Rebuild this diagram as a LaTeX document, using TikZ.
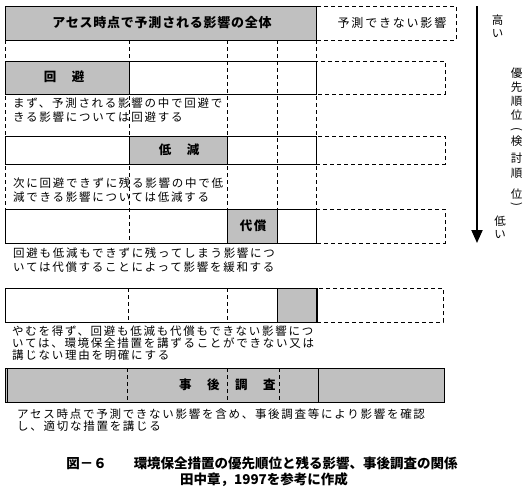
\documentclass[tikz,border=0pt]{standalone}
\usepackage{fontspec}
\newfontfamily\jp{Noto Sans CJK JP}
\usetikzlibrary{arrows.meta}
\definecolor{boxgray}{RGB}{192,192,192}
\begin{document}
\begin{tikzpicture}[x=1pt,y=-1pt,
  solidline/.style={draw=black,line width=1pt},
  dashline/.style={draw=black,line width=1pt,dash pattern=on 4pt off 3pt},
  grayfill/.style={fill=boxgray,draw=black,line width=1pt},
  bodytxt/.style={anchor=west,inner sep=0pt,font=\jp\fontsize{11.5}{14}\selectfont\addfontfeatures{LetterSpace=15}},
  boldlbl/.style={inner sep=0pt,font=\jp\bfseries\fontsize{12.5}{14}\selectfont\addfontfeatures{LetterSpace=12}},
  sidetxt/.style={inner sep=0pt,font=\jp\fontsize{11.5}{13}\selectfont},
  captxt/.style={inner sep=0pt,font=\jp\bfseries\fontsize{13.5}{16}\selectfont}]
\useasboundingbox (0,0) rectangle (528,493);
\fill[white] (0,0) rectangle (528,493);

% top row
\draw[dashline] (316,6) rectangle (456,40);
\draw[grayfill] (5,6) rectangle (316,40);
\node[boldlbl,font=\jp\bfseries\fontsize{13}{14}\selectfont\addfontfeatures{LetterSpace=6}] (whole) at (162,23) {アセス時点で予測される影響の全体};
\node[inner sep=0pt,font=\jp\fontsize{12}{14}\selectfont\addfontfeatures{LetterSpace=15}] (unpred) at (392,23) {予測できない影響};

% row 1 : avoidance
\draw[solidline,fill=white] (5,61) rectangle (316,94);
\draw[grayfill] (5,61) rectangle (129,94);
\draw[dashline] (316,61) rectangle (445,94);
% row 2 : reduction
\draw[solidline,fill=white] (5,136) rectangle (316,164);
\draw[grayfill] (129,136) rectangle (227,164);
\draw[dashline] (316,136) rectangle (445,164);
% row 3 : compensation
\draw[solidline,fill=white] (5,209) rectangle (316,243);
\draw[grayfill] (227,209) rectangle (277,243);
\draw[dashline] (316,209) rectangle (445,243);

% dashed guide lines
\foreach \xx in {5,129,227,277,316}{
  \draw[dashline] (\xx,40) -- (\xx,243);
}

\node[boldlbl] (avoid) at (64,77) {回　避};
\node[boldlbl] (reduce) at (179,150) {低　減};
\node[boldlbl] (comp) at (253,226) {代償};

\node[bodytxt] (t1a) at (13,103) {まず、予測される影響の中で回避で};
\node[bodytxt] (t1b) at (13,117) {きる影響については回避する};
\node[bodytxt] (t2a) at (13,183) {次に回避できずに残る影響の中で低};
\node[bodytxt] (t2b) at (13,197) {減できる影響については低減する};
\node[bodytxt] (t3a) at (13,253) {回避も低減もできずに残ってしまう影響につ};
\node[bodytxt] (t3b) at (13,267) {いては代償することによって影響を緩和する};

% row 4
\draw[dashline] (316,288) rectangle (443,322);
\draw[solidline,fill=white] (5,288) rectangle (316,322);
\draw[grayfill] (277,288) rectangle (316,322);
\draw[dashline] (128,288) -- (128,322);
\draw[dashline] (227,288) -- (227,322);
\draw[line width=2pt] (316.5,288) -- (316.5,322);

\node[bodytxt] (t4a) at (12,331) {やむを得ず、回避も低減も代償もできない影響につ};
\node[bodytxt] (t4b) at (12,343) {いては、環境保全措置を講ずることができない又は};
\node[bodytxt] (t4c) at (12,355) {講じない理由を明確にする};

% row 5
\draw[grayfill] (5,368) rectangle (444,402);
\draw[solidline] (7.5,368) -- (7.5,402);
\draw[dashline] (127,368) -- (127,402);
\draw[dashline] (227,368) -- (227,402);
\draw[dashline] (279,368) -- (279,402);
\draw[solidline] (318,368) -- (318,402);
\node[boldlbl,anchor=west] (post) at (179,385) {事　後　調　査};

\node[bodytxt] (t5a) at (17,414) {アセス時点で予測できない影響を含め、事後調査等により影響を確認};
\node[bodytxt] (t5b) at (17,426) {し、適切な措置を講じる};

% priority arrow
\coordinate (atop) at (477,6);
\coordinate (abot) at (477,243);
\draw[line width=2pt,-{Triangle[width=11pt,length=13pt]}] (atop) -- (abot);

\node[sidetxt] (hi1) at (497.5,20) {高};
\node[sidetxt] (hi2) at (497.5,34) {い};
\foreach \ch/\yy [count=\i] in {優/73,先/87,順/101,位/115.5,検/141.5,討/158.5,順/173.5,位/194}{
  \node[sidetxt] (pr\i) at (516.5,\yy) {\ch};
}
\node[sidetxt,rotate=-90] (popen) at (516.5,129) {(};
\node[sidetxt,rotate=-90] (pclose) at (516.5,204) {)};
\node[sidetxt] (lo1) at (500,221) {低};
\node[sidetxt] (lo2) at (500,235) {い};

% caption
\node[captxt] (cap1) at (262,463) {図－６　　環境保全措置の優先順位と残る影響、事後調査の関係};
\node[captxt] (cap2) at (264,480) {田中章，1997を参考に作成};
\end{tikzpicture}
\end{document}
